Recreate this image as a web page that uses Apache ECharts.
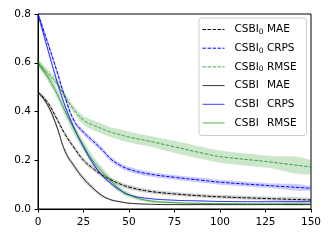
<!DOCTYPE html>
<html><head><meta charset="utf-8">
<script src="https://cdn.jsdelivr.net/npm/echarts@6/dist/echarts.min.js"></script>
<style>html,body{margin:0;padding:0;background:#fff}#c{width:332px;height:240px}</style>
</head><body><div id="c"></div>
<script>
const xs = [0,5,10,15,20,25,30,35,40,45,50,60,75,90,100,125,150];
const xTicks = [0,25,50,75,100,125,150];
const yTicks = [0,0.2,0.4,0.6,0.8];
// CSBI0 series (dashed)
const csbi0Mae  = [0.48,0.44,0.375,0.305,0.25,0.20,0.168,0.14,0.12,0.103,0.09,0.074,0.062,0.054,0.05,0.043,0.037];
const csbi0Crps = [0.80,0.69,0.575,0.455,0.36,0.315,0.28,0.245,0.205,0.18,0.163,0.145,0.13,0.118,0.11,0.097,0.085];
const csbi0Rmse = [0.60,0.56,0.52,0.46,0.405,0.365,0.345,0.33,0.315,0.305,0.295,0.28,0.255,0.23,0.215,0.195,0.172];
// CSBI series (solid)
const csbiMae  = [0.48,0.43,0.345,0.235,0.175,0.125,0.087,0.056,0.038,0.03,0.024,0.02,0.018,0.018,0.018,0.018,0.018];
const csbiCrps = [0.80,0.665,0.535,0.42,0.33,0.255,0.19,0.14,0.105,0.078,0.058,0.044,0.036,0.033,0.031,0.03,0.03];
const csbiRmse = [0.60,0.545,0.48,0.40,0.325,0.26,0.20,0.155,0.115,0.08,0.058,0.035,0.026,0.023,0.022,0.021,0.021];
// spread (half-width of shaded bands)
const sp0Mae  = [0.005,0.008,0.01,0.01,0.01,0.01,0.01,0.009,0.009,0.009,0.009,0.008,0.008,0.008,0.008,0.008,0.008];
const sp0Crps = [0.01,0.012,0.012,0.012,0.01,0.01,0.01,0.01,0.01,0.01,0.01,0.01,0.01,0.01,0.01,0.01,0.01];
const sp0Rmse = [0.01,0.015,0.015,0.015,0.015,0.018,0.02,0.02,0.02,0.022,0.022,0.022,0.025,0.025,0.025,0.025,0.028];
const spMae   = [0.005,0.008,0.01,0.01,0.01,0.01,0.008,0.006,0.004,0.003,0.002,0.002,0.002,0.002,0.002,0.002,0.002];
const spCrps  = [0.01,0.012,0.012,0.01,0.01,0.008,0.008,0.006,0.005,0.004,0.003,0.002,0.002,0.002,0.002,0.002,0.002];
const spRmse  = [0.01,0.015,0.018,0.02,0.02,0.02,0.02,0.018,0.015,0.012,0.01,0.006,0.004,0.003,0.003,0.003,0.003];

const FONT = 'DejaVu Sans';
const SMOOTH = 0.45;
function band(ys, sp, color){
  return {
    type:'custom', clip:true, silent:true, z:1,
    data: xs.map((x,i)=>[x, ys[i]-sp[i], ys[i]+sp[i]]),
    encode:{x:0, y:[1,2]},
    renderItem: function(params, api){
      if (params.dataIndex !== 0) return;
      const up = xs.map((x,i)=>api.coord([x, ys[i]+sp[i]]));
      const lo = xs.map((x,i)=>api.coord([x, ys[i]-sp[i]])).reverse();
      return {type:'polygon', shape:{points: up.concat(lo), smooth:SMOOTH}, style:{fill:color, stroke:null}};
    }
  };
}
function line(name, ys, color, dashed){
  return {
    type:'line', name:name, data: xs.map((x,i)=>[x, ys[i]]), symbol:'none', showSymbol:false, smooth:SMOOTH, z:3,
    lineStyle:{color:color, width:1, type: dashed ? [3.5,1.5] : 'solid'},
    itemStyle:{color:color}
  };
}
const names = ['CSBI0 MAE','CSBI0 CRPS','CSBI0 RMSE','CSBI MAE','CSBI CRPS','CSBI RMSE'];
const chart = echarts.init(document.getElementById('c'));
chart.setOption({
  animation:false,
  grid:{left:38, right:21, top:14, bottom:31, show:true, borderColor:'#000', borderWidth:1},
  xAxis:{type:'value', min:0, max:150, interval:25,
    axisLine:{lineStyle:{color:'#000'}}, axisTick:{length:3.5, lineStyle:{color:'#000'}},
    axisLabel:{color:'#000', fontFamily:FONT, fontSize:10.5, margin:8}, splitLine:{show:false}},
  yAxis:{type:'value', min:0, max:0.8, interval:0.2,
    axisLine:{show:true, lineStyle:{color:'#000'}}, axisTick:{show:true, length:3.5, lineStyle:{color:'#000'}},
    axisLabel:{color:'#000', fontFamily:FONT, fontSize:10.5, margin:7, formatter:v=>v.toFixed(1)}, splitLine:{show:false}},
  legend:{orient:'vertical', left:199, top:18, padding:[6,10,6,3], itemWidth:22, itemHeight:10, itemGap:6.7,
    backgroundColor:'rgba(255,255,255,0.85)', borderColor:'#ccc', borderWidth:1, borderRadius:3,
    itemStyle:{opacity:0}, lineStyle:{width:1},
    data: names,
    formatter: function(n){
      const p = n.split(' ');
      if (p[0]==='CSBI0') return '{a|CSBI}{s|0}{a| '+p[1]+'}';
      return '{a|CSBI}{h|0}{a| '+p[1]+'}';
    },
    textStyle:{fontFamily:FONT, fontSize:10.5, color:'#000', padding:[0,0,0,5],
      rich:{a:{fontFamily:FONT, fontSize:10.5, color:'#000'},
            s:{fontFamily:FONT, fontSize:7.5, color:'#000', padding:[5,0,0,0]},
            h:{fontFamily:FONT, fontSize:7.5, color:'rgba(0,0,0,0)', padding:[5,0,0,0]}}}
  },
  series:[
    band(csbi0Rmse, sp0Rmse, 'rgba(0,128,0,0.2)'),
    band(csbi0Crps, sp0Crps, 'rgba(0,0,255,0.2)'),
    band(csbi0Mae, sp0Mae, 'rgba(0,0,0,0.18)'),
    band(csbiRmse, spRmse, 'rgba(0,128,0,0.22)'),
    band(csbiCrps, spCrps, 'rgba(0,0,255,0.2)'),
    band(csbiMae, spMae, 'rgba(0,0,0,0.18)'),
    line('CSBI0 MAE', csbi0Mae, '#000', true),
    line('CSBI0 CRPS', csbi0Crps, '#0000ff', true),
    line('CSBI0 RMSE', csbi0Rmse, 'rgba(0,128,0,0.7)', true),
    line('CSBI MAE', csbiMae, 'rgba(0,0,0,0.8)', false),
    line('CSBI CRPS', csbiCrps, 'rgba(0,0,255,0.75)', false),
    line('CSBI RMSE', csbiRmse, 'rgba(0,128,0,0.65)', false)
  ]
});
</script></body></html>
